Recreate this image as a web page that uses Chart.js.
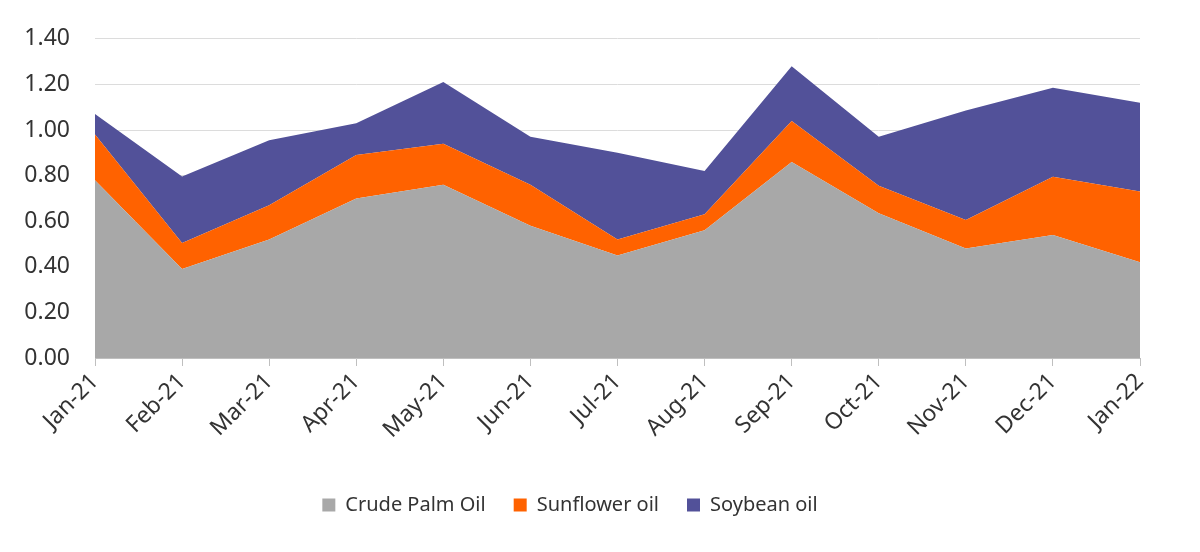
<!DOCTYPE html>
<html>
<head>
<meta charset="utf-8">
<script src="https://cdn.jsdelivr.net/npm/chart.js@4.4.1/dist/chart.umd.min.js"></script>
<style>
  html, body { margin: 0; padding: 0; background: #fff; }
  #wrap { width: 1200px; height: 552px; position: relative; }
</style>
</head>
<body>
<div id="wrap"><canvas id="oilChart"></canvas></div>
<script>
// data
const months = ["Jan-21","Feb-21","Mar-21","Apr-21","May-21","Jun-21","Jul-21","Aug-21","Sep-21","Oct-21","Nov-21","Dec-21","Jan-22"];
const palmOil = [0.78,0.39,0.52,0.70,0.76,0.58,0.45,0.56,0.86,0.635,0.48,0.54,0.42];
const sunflowerOil = [0.20,0.114,0.15,0.19,0.18,0.18,0.07,0.07,0.18,0.12,0.125,0.255,0.31];
const soybeanOil = [0.09,0.292,0.285,0.14,0.27,0.21,0.38,0.19,0.24,0.215,0.48,0.39,0.39];
const yTicks = [0,0.2,0.4,0.6,0.8,1.0,1.2,1.4];

const FONT = "'Noto Sans', Lato, sans-serif";
const TEXT = "#333333";

document.addEventListener("DOMContentLoaded", () => {
  const canvas = document.getElementById("oilChart");

  const area = (label, data, color, fill) => ({
    label: label,
    data: data,
    backgroundColor: color,
    borderColor: color,
    borderWidth: 0,
    pointRadius: 0,
    tension: 0,
    fill: fill
  });

  new Chart(canvas, {
    type: "line",
    data: {
      labels: months,
      datasets: [
        area("Crude Palm Oil", palmOil, "#a8a8a8", "origin"),
        area("Sunflower oil", sunflowerOil, "#ff6200", "-1"),
        area("Soybean oil", soybeanOil, "#525199", "-1")
      ]
    },
    options: {
      responsive: true,
      maintainAspectRatio: false,
      animation: false,
      layout: { padding: { left: 0, right: 60, top: 27, bottom: 27 } },
      plugins: {
        tooltip: { enabled: false },
        legend: {
          position: "bottom",
          labels: {
            color: TEXT,
            font: { family: FONT, size: 20 },
            boxWidth: 13,
            boxHeight: 13,
            padding: 28
          }
        }
      },
      scales: {
        x: {
          offset: false,
          afterFit: scale => { scale.height = 109; },
          grid: {
            drawOnChartArea: false,
            drawTicks: true,
            tickLength: 8,
            color: "#bfbfbf"
          },
          border: { display: true, color: "#bfbfbf", width: 1 },
          ticks: {
            color: TEXT,
            font: { family: FONT, size: 23 },
            maxRotation: 45,
            minRotation: 45,
            autoSkip: false,
            padding: 2
          }
        },
        y: {
          stacked: true,
          min: 0,
          max: 1.4,
          afterBuildTicks: scale => {
            scale.ticks = yTicks.map(v => ({ value: v }));
          },
          afterFit: scale => { scale.width = 95; },
          grid: { color: "#dcdcdc", drawTicks: false },
          border: { display: false },
          ticks: {
            color: TEXT,
            font: { family: FONT, size: 23 },
            padding: 25,
            callback: v => Number(v).toFixed(2)
          }
        }
      }
    }
  });
});
</script>
</body>
</html>
